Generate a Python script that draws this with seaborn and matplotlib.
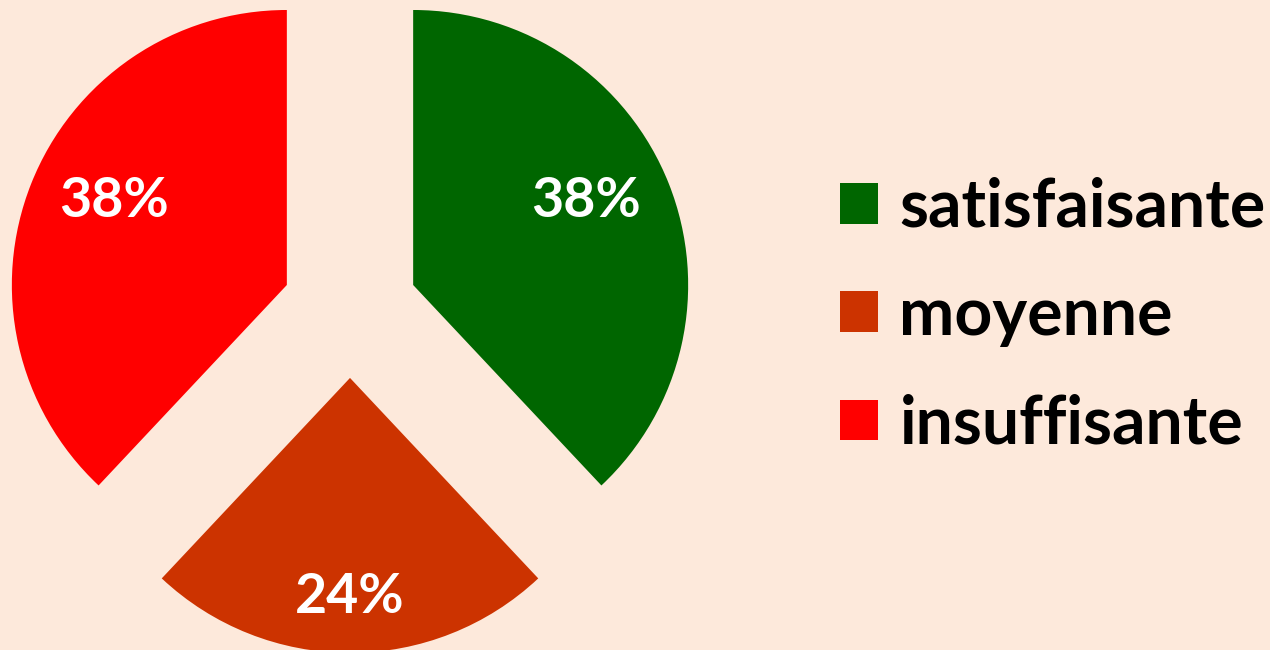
import numpy as np
import matplotlib
matplotlib.use("Agg")
import matplotlib.pyplot as plt
import seaborn as sns

# ================= DONNÉES =================
categories = ["satisfaisante", "moyenne", "insuffisante"]
valeurs = [38, 24, 38]
couleurs = ["#006600", "#CC3300", "#FF0000"]

FOND = "#FDE9DB"

sns.set_style("white")
plt.rcParams["font.family"] = ["Lato", "DejaVu Sans"]

fig = plt.figure(figsize=(12.7, 6.5), dpi=100, facecolor=FOND)
ax = fig.add_axes([0, 0, 700 / 1270, 1])
ax.set_facecolor(FOND)

wedges, _ = ax.pie(
    valeurs,
    colors=couleurs,
    startangle=90,
    counterclock=False,
    explode=[0.247] * len(valeurs),
    radius=1.0,
    wedgeprops={"linewidth": 0, "edgecolor": "none"},
)

# étiquettes de pourcentage (ligne de base), placées dans chaque part
dist_label = [0.675, 0.855, 0.675]
for w, v, d in zip(wedges, valeurs, dist_label):
    ang = np.deg2rad((w.theta1 + w.theta2) / 2)
    cx, cy = w.center
    ax.text(cx + d * np.cos(ang), cy + d * np.sin(ang), f"{v}%",
            ha="center", va="baseline", color="white",
            fontsize=40, fontweight="bold")

ax.set_xlim(-350 / 275, 350 / 275)
ax.set_ylim(-340 / 275, 310 / 275)
ax.set_aspect("equal")
ax.axis("off")

leg = fig.legend(
    wedges, categories,
    loc="center left", bbox_to_anchor=(840 / 1270, 1 - 316 / 650),
    frameon=False,
    prop={"weight": "bold", "size": 47.5},
    handlelength=0.57, handleheight=0.57, handletextpad=0.33,
    labelspacing=0.7, borderpad=0, borderaxespad=0,
)
for t in leg.get_texts():
    t.set_color("black")

fig.savefig("out.png", dpi=100, facecolor=FOND)
